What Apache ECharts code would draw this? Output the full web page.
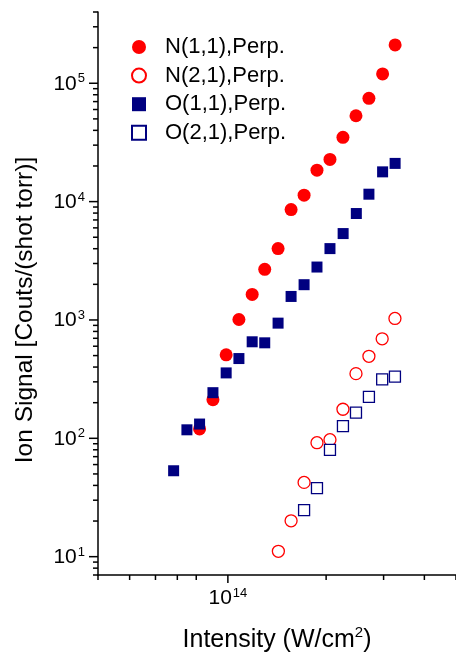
<!DOCTYPE html>
<html>
<head>
<meta charset="utf-8">
<script src="https://cdn.jsdelivr.net/npm/echarts@6/dist/echarts.min.js"></script>
<style>
html,body{margin:0;padding:0;background:#fff;}
#chart{width:456px;height:661px;}
</style>
</head>
<body>
<div id="chart"></div>
<script>
// ---- data ----
const seriesNames = ['N(1,1),Perp.', 'N(2,1),Perp.', 'O(1,1),Perp.', 'O(2,1),Perp.'];

const xN11 = [8.19e13, 9.00e13, 9.88e13, 1.081e14, 1.187e14, 1.297e14, 1.425e14, 1.562e14,
              1.712e14, 1.875e14, 2.055e14, 2.252e14, 2.469e14, 2.705e14, 2.979e14, 3.254e14];
const yN11 = [120, 212, 507, 1009, 1643, 2677, 4008, 8570,
              11330, 18450, 22740, 34930, 53160, 74640, 119900, 211000];

const xN21 = [1.428e14, 1.562e14, 1.712e14, 1.875e14, 2.055e14, 2.252e14, 2.469e14, 2.705e14, 2.970e14, 3.250e14];
const yN21 = [11.1, 20.1, 42.4, 91.8, 97.3, 176, 352, 493, 693, 1030];

const xO11 = [6.82e13, 7.49e13, 8.19e13, 9.00e13, 9.88e13, 1.081e14, 1.187e14, 1.297e14, 1.425e14,
              1.562e14, 1.712e14, 1.875e14, 2.055e14, 2.255e14, 2.475e14, 2.705e14, 2.979e14, 3.254e14];
const yO11 = [53.2, 118, 132, 243, 357, 472, 654, 641, 940,
              1580, 1986, 2800, 4008, 5370, 7930, 11550, 17840, 21030];

const xO21 = [1.712e14, 1.875e14, 2.055e14, 2.252e14, 2.469e14, 2.705e14, 2.970e14, 3.250e14];
const yO21 = [24.7, 37.9, 80, 127, 165, 224, 315, 332];

// axis ranges and ticks
const xMin = 4e13, xMax = 5e14;
const yMin = 7, yMax = 4e5;
const xMajorTicks = [1e14];
const xMinorTicks = [4e13, 5e13, 6e13, 7e13, 8e13, 2e14, 3e14, 4e14, 5e14];
const yMajorTicks = [10, 100, 1000, 10000, 100000];
const yMinorTicks = [7, 8, 9, 20, 30, 40, 50, 60, 70, 80, 90,
  200, 300, 400, 500, 600, 700, 800, 900,
  2000, 3000, 4000, 5000, 6000, 7000, 8000, 9000,
  20000, 30000, 40000, 50000, 60000, 70000, 80000, 90000,
  200000, 300000, 400000];

const xTitle = 'Intensity (W/cm';
const xTitleSup = '2';
const yTitle = 'Ion Signal [Couts/(shot torr)]';

// ---- chart ----
const FONT = '"Liberation Sans", Arial, Helvetica, sans-serif';
const RED = '#ff0000', NAVY = '#000080';

function zip(xs, ys) { return xs.map((x, i) => [x, ys[i]]); }

function powLabel(v) {
  const e = Math.log10(v);
  const r = Math.round(e);
  if (Math.abs(e - r) > 1e-6) return '';
  return '{b|10}{s|' + r + '}';
}

function tickSeries(axis, values, len) {
  return {
    type: 'custom',
    silent: true,
    clip: false,
    z: 10,
    data: values.map(v => axis === 'x' ? [v, yMin] : [xMin, v]),
    renderItem: function (params, api) {
      const p = api.coord([api.value(0), api.value(1)]);
      const shape = axis === 'x'
        ? { x1: p[0], y1: p[1], x2: p[0], y2: p[1] + len }
        : { x1: p[0] - len, y1: p[1], x2: p[0], y2: p[1] };
      return { type: 'line', shape: shape, style: { stroke: '#000', lineWidth: 1.5 } };
    }
  };
}

const chart = echarts.init(document.getElementById('chart'), null, { renderer: 'canvas' });

const labelRich = {
  b: { fontSize: 21, fontFamily: FONT, color: '#000', verticalAlign: 'bottom', lineHeight: 22 },
  s: { fontSize: 13, fontFamily: FONT, color: '#000', verticalAlign: 'top', lineHeight: 22, padding: [0, 0, 0, 1] }
};

const option = {
  animation: false,
  backgroundColor: '#fff',
  grid: { left: 98, right: 0, top: 12, bottom: 86, containLabel: false, outerBoundsMode: 'none' },
  legend: {
    orient: 'vertical',
    left: 126,
    top: 31,
    itemWidth: 14,
    itemHeight: 14,
    itemGap: 6.6,
    data: seriesNames,
    formatter: name => '{g|}{t|' + name + '}',
    textStyle: {
      rich: {
        g: { width: 14 },
        t: { fontSize: 22, fontFamily: FONT, color: '#000', lineHeight: 24 }
      }
    }
  },
  xAxis: {
    type: 'log',
    logBase: 10,
    min: xMin,
    max: xMax,
    splitLine: { show: false },
    axisTick: { show: false },
    axisLine: { show: true, onZero: false, lineStyle: { color: '#000', width: 1.5 } },
    axisLabel: { formatter: powLabel, rich: labelRich, margin: 12, showMinLabel: false, showMaxLabel: false },
    name: '{a|' + xTitle + '}{s|' + xTitleSup + '}{a|)}',
    nameLocation: 'middle',
    nameGap: 50,
    nameTextStyle: {
      rich: {
        a: { fontSize: 25, fontFamily: FONT, color: '#000', verticalAlign: 'bottom', lineHeight: 28 },
        s: { fontSize: 15, fontFamily: FONT, color: '#000', verticalAlign: 'top', lineHeight: 28 }
      }
    }
  },
  yAxis: {
    type: 'log',
    logBase: 10,
    min: yMin,
    max: yMax,
    splitLine: { show: false },
    axisTick: { show: false },
    axisLine: { show: true, onZero: false, lineStyle: { color: '#000', width: 1.5 } },
    axisLabel: { formatter: powLabel, rich: labelRich, margin: 13, showMinLabel: false, showMaxLabel: false }
  },
  graphic: [{
    type: 'text',
    x: 25,
    y: 310,
    rotation: Math.PI / 2,
    style: {
      text: yTitle,
      fontSize: 24.5,
      fontFamily: FONT,
      fill: '#000',
      align: 'center',
      verticalAlign: 'middle'
    }
  }],
  series: [
    {
      name: seriesNames[0], type: 'scatter', symbol: 'circle', symbolSize: 13,
      itemStyle: { color: RED, opacity: 1 },
      data: zip(xN11, yN11), z: 2
    },
    {
      name: seriesNames[1], type: 'scatter', symbol: 'circle', symbolSize: 12,
      itemStyle: { color: '#fff', borderColor: RED, borderWidth: 1.3, opacity: 1 },
      data: zip(xN21, yN21), z: 2
    },
    {
      name: seriesNames[2], type: 'scatter', symbol: 'rect', symbolSize: 11,
      itemStyle: { color: NAVY, opacity: 1 },
      data: zip(xO11, yO11), z: 3
    },
    {
      name: seriesNames[3], type: 'scatter', symbol: 'rect', symbolSize: 11,
      itemStyle: { color: '#fff', borderColor: NAVY, borderWidth: 1.3, opacity: 1 },
      data: zip(xO21, yO21), z: 3
    },
    tickSeries('x', xMajorTicks, 8),
    tickSeries('x', xMinorTicks, 5),
    tickSeries('y', yMajorTicks, 9),
    tickSeries('y', yMinorTicks, 5)
  ]
};

chart.setOption(option);
</script>
</body>
</html>
